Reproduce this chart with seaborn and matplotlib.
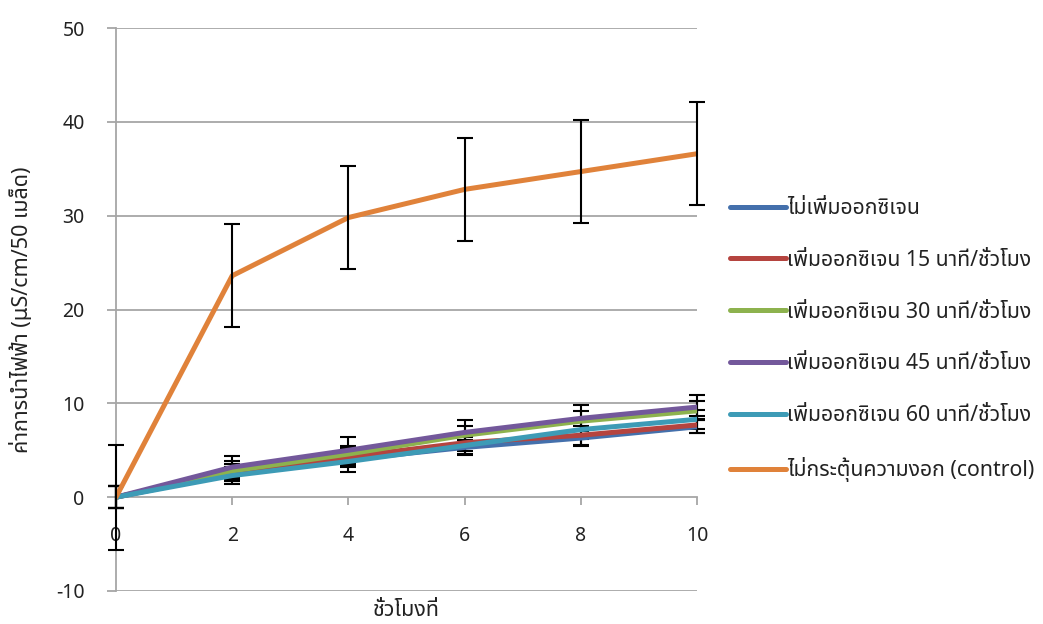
import matplotlib
matplotlib.use("Agg")
import matplotlib.pyplot as plt
from matplotlib import font_manager
from matplotlib.ft2font import FT2Font
import seaborn as sns
import pandas as pd

# ---- data ----
hours = [0, 2, 4, 6, 8, 10]

series_names = [
    "ไม่เพิ่มออกซิเจน",
    "เพิ่มออกซิเจน 15 นาที/ชั่วโมง",
    "เพิ่มออกซิเจน 30 นาที/ชั่วโมง",
    "เพิ่มออกซิเจน 45 นาที/ชั่วโมง",
    "เพิ่มออกซิเจน 60 นาที/ชั่วโมง",
    "ไม่กระตุ้นความงอก (control)",
]

no_oxygen = [0, 2.5, 4.0, 5.3, 6.3, 7.5]
oxygen_15 = [0, 2.6, 4.3, 5.8, 6.6, 7.7]
oxygen_30 = [0, 2.8, 4.6, 6.6, 8.1, 9.2]
oxygen_45 = [0, 3.2, 5.0, 6.9, 8.4, 9.6]
oxygen_60 = [0, 2.3, 3.8, 5.5, 7.2, 8.3]
control = [0, 23.6, 29.8, 32.8, 34.7, 36.6]

no_oxygen_err = [1.2, 0.7, 0.8, 0.8, 0.9, 0.7]
oxygen_15_err = [1.2, 0.9, 0.9, 0.9, 1.0, 0.9]
oxygen_30_err = [1.2, 1.1, 0.9, 1.0, 1.1, 1.0]
oxygen_45_err = [1.2, 1.2, 1.4, 1.3, 1.4, 1.3]
oxygen_60_err = [1.2, 0.9, 1.1, 0.9, 1.0, 1.0]
control_err = [5.6, 5.5, 5.5, 5.5, 5.5, 5.5]

colors = ["#4470AC", "#B5443F", "#8DB24E", "#73589B", "#3D9BB6", "#E0823A"]

values = [no_oxygen, oxygen_15, oxygen_30, oxygen_45, oxygen_60, control]
errors = [no_oxygen_err, oxygen_15_err, oxygen_30_err, oxygen_45_err, oxygen_60_err, control_err]

x_label = "ชั่วโมงที่"
y_label = "ค่าการนำไฟฟ้า (µS/cm/50 เมล็ด)"

# ---- style ----
sns.set_theme(style="white")


def find_thai_font():
    preferred = ["Noto Sans Thai", "Noto Sans Thai Looped", "Loma", "Garuda",
                 "Sarabun", "Tlwg Typist", "Kinnari", "Norasi", "Waree", "Umpush"]
    found = {}
    for entry in font_manager.fontManager.ttflist:
        try:
            cmap = FT2Font(entry.fname).get_charmap()
        except Exception:
            continue
        if 0x0E01 in cmap and 0x0E40 in cmap:
            found.setdefault(entry.name, entry.fname)
    for name in preferred:
        if name in found:
            return name
    return next(iter(found), None)


thai = find_thai_font()
families = ([thai] if thai else []) + ["DejaVu Sans"]
plt.rcParams["font.family"] = families

TICK_FS = 14
TEXT_FS = 15.5
LEGEND_FS = 15.3
grid_gray = "#A6A6A6"
text_color = "#222222"

df = pd.DataFrame({
    "hour": hours * len(series_names),
    "value": [v for vals in values for v in vals],
    "series": [name for name in series_names for _ in hours],
})

fig = plt.figure(figsize=(10.43, 6.24), dpi=100)
ax = fig.add_axes([116 / 1043, 1 - 591 / 624, (697 - 116) / 1043, (591 - 28) / 624])

# error bars of the oxygen series sit under the lines, the control's on top
for i, (vals, errs) in enumerate(zip(values, errors)):
    eb = ax.errorbar(hours, vals, yerr=errs, fmt="none", ecolor="black",
                     elinewidth=1.5, capsize=6, capthick=1.5,
                     zorder=1.5 if i < 5 else 4)
    for art in eb.lines[1] + eb.lines[2]:
        art.set_clip_on(False)

sns.lineplot(data=df, x="hour", y="value", hue="series", hue_order=series_names,
             palette=colors, linewidth=3.6, ax=ax, legend=True, zorder=3,
             errorbar=None)

ax.set_xlim(0, 10)
ax.set_ylim(-10, 50)
ax.set_xticks(hours)
ax.set_yticks([-10, 0, 10, 20, 30, 40, 50])

# horizontal gridlines
for y in [10, 20, 30, 40, 50, -10]:
    ax.axhline(y, color=grid_gray, linewidth=1.3, zorder=0.5)

for side in ["top", "right"]:
    ax.spines[side].set_visible(False)
ax.spines["left"].set_color(grid_gray)
ax.spines["left"].set_linewidth(1.3)
ax.spines["bottom"].set_position(("data", 0))
ax.spines["bottom"].set_color(grid_gray)
ax.spines["bottom"].set_linewidth(1.3)

ax.tick_params(axis="y", direction="out", length=6.5, width=1.3, color=grid_gray,
               pad=16, labelsize=TICK_FS, labelcolor=text_color, left=True)
ax.tick_params(axis="x", direction="out", length=6, width=1.3, color=grid_gray,
               pad=15, labelsize=TICK_FS, labelcolor=text_color, bottom=True)

ax.set_xlabel("")
ax.set_ylabel("")
fig.text(406 / 1043, 1 - 610 / 624, x_label, ha="center", va="center",
         fontsize=TEXT_FS, color=text_color)
fig.text(22 / 1043, 1 - 310 / 624, y_label, ha="center", va="center",
         rotation=90, fontsize=TEXT_FS, color=text_color)

handles, labels = ax.get_legend_handles_labels()
for h in handles:
    h.set_linewidth(3.6)
    h.set_solid_capstyle("round")
ax.legend(handles, labels, loc="center left", bbox_to_anchor=(730 / 1043, 1 - 340 / 624),
          bbox_transform=fig.transFigure, frameon=False, fontsize=LEGEND_FS,
          handlelength=2.62, handletextpad=0.05, labelspacing=1.45,
          borderpad=0, borderaxespad=0, labelcolor=text_color)

fig.savefig("out.png", dpi=100, facecolor="white")
